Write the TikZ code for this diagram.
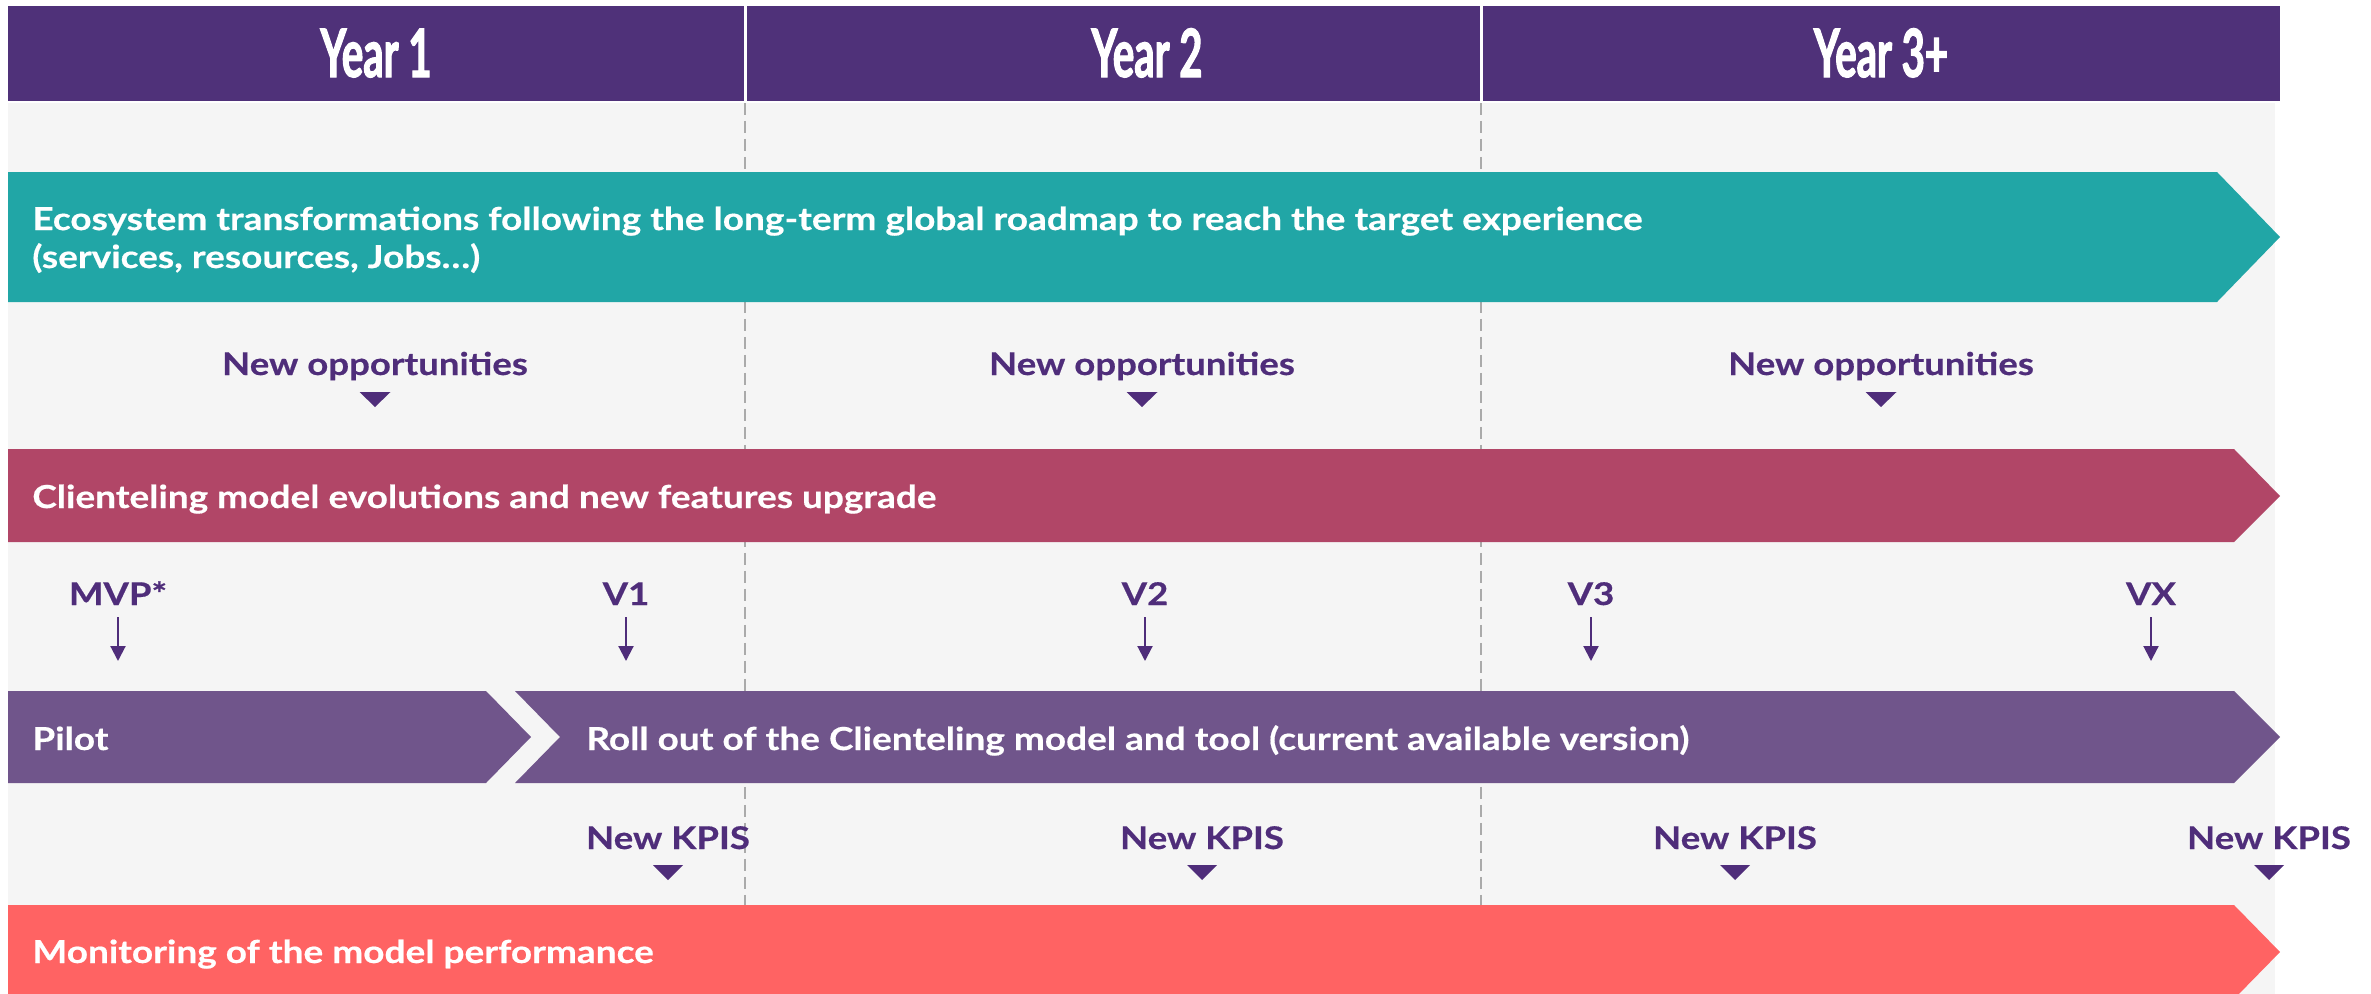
\documentclass[tikz,border=0pt]{standalone}
\usepackage{fontspec}
\setmainfont{Lato}[FakeStretch=1.17, BoldFeatures={FakeBold=0.5}]
\newfontfamily\yearfont{Lato}[FakeStretch=0.6, BoldFeatures={FakeBold=1.6}]
\usetikzlibrary{arrows.meta}
\definecolor{hdr}{RGB}{79,49,121}
\definecolor{txt}{RGB}{79,45,122}
\definecolor{bg}{RGB}{245,245,245}
\definecolor{tealc}{RGB}{33,166,166}
\definecolor{crim}{RGB}{177,70,103}
\definecolor{pbar}{RGB}{112,85,139}
\definecolor{coral}{RGB}{255,99,99}
\definecolor{dashc}{RGB}{170,170,170}
\tikzset{
  body/.style={font=\fontsize{18}{21.6}\selectfont\bfseries, text=white, inner sep=0pt, anchor=base west},
  lab/.style={font=\fontsize{17.8}{20}\selectfont\bfseries, text=txt, inner sep=0pt, anchor=base},
  yr/.style={font=\yearfont\fontsize{38}{40}\selectfont\bfseries, text=white, inner sep=0pt, anchor=base},
  tri/.style={fill=txt},
  varrow/.style={draw=txt, line width=1.2pt, -{Triangle[width=0.3cm,length=0.3cm]}},
  dline/.style={draw=dashc, line width=0.6pt, dash pattern=on 0.24cm off 0.12cm},
}
\begin{document}
\begin{tikzpicture}[x=0.02cm,y=-0.02cm]
\useasboundingbox (0,0) rectangle (2371,994);
\clip (0,0) rectangle (2371,994);
% background
\fill[bg] (8,103) rectangle (2275,994);
% header
\fill[hdr] (8,6) rectangle (2280,101);
\draw[white, line width=0.06cm] (745,6) -- (745,101) (1481,6) -- (1481,101);
\node[yr] (y1) at (376,77) {Year 1};
\node[yr] (y2) at (1147,77) {Year 2};
\node[yr] (y3) at (1881,77) {Year 3+};
% dashed separators
\coordinate (d1a) at (745,103); \coordinate (d1b) at (745,905);
\coordinate (d2a) at (1481,103); \coordinate (d2b) at (1481,905);
\draw[dline] (d1a) -- (d1b);
\draw[dline] (d2a) -- (d2b);
% bars
\fill[tealc] (8,172) -- (2217,172) -- (2280,237) -- (2217,302) -- (8,302) -- cycle;
\fill[crim] (8,449) -- (2234,449) -- (2280,496) -- (2234,542) -- (8,542) -- cycle;
\fill[pbar] (8,691) -- (486,691) -- (531,737) -- (486,783) -- (8,783) -- cycle;
\fill[pbar] (515,691) -- (2234,691) -- (2280,737) -- (2234,783) -- (515,783) -- (560,737) -- cycle;
\fill[coral] (8,905) -- (2234,905) -- (2280,952) -- (2234,999) -- (8,999) -- cycle;
% bar texts
\node[body, align=left] (eco) at (32,268) {Ecosystem transformations following the long-term global roadmap to reach the target experience\\(services, resources, Jobs…)};
\node[body] (cli) at (32,508) {Clienteling model evolutions and new features upgrade};
\node[body] (pil) at (32,750) {Pilot};
\node[body] (rol) at (586,750) {Roll out of the Clienteling model and tool (current available version)};
\node[body] (mon) at (32,963) {Monitoring of the model performance};
% new opportunities
\foreach \n/\x in {no1/375, no2/1142, no3/1881}{
  \node[lab] (\n) at (\x,375) {New opportunities};
  \fill[tri] (\x-15.5,392) -- (\x+15.5,392) -- (\x,407) -- cycle;
}
% versions
\foreach \n/\x/\t in {mvp/118/MVP*, v1/626/V1, v2/1145/V2, v3/1591/V3, vx/2151/VX}{
  \node[lab] (\n) at (\x,605) {\t};
  \coordinate (\n a) at (\x,617);
  \coordinate (\n b) at (\x,661);
  \draw[varrow] (\n a) -- (\n b);
}
% new KPIS
\foreach \n/\x in {k1/668, k2/1202, k3/1735, k4/2269}{
  \node[lab] (\n) at (\x,849) {New KPIS};
  \fill[tri] (\x-15,865) -- (\x+15,865) -- (\x,880) -- cycle;
}
\end{tikzpicture}
\end{document}
